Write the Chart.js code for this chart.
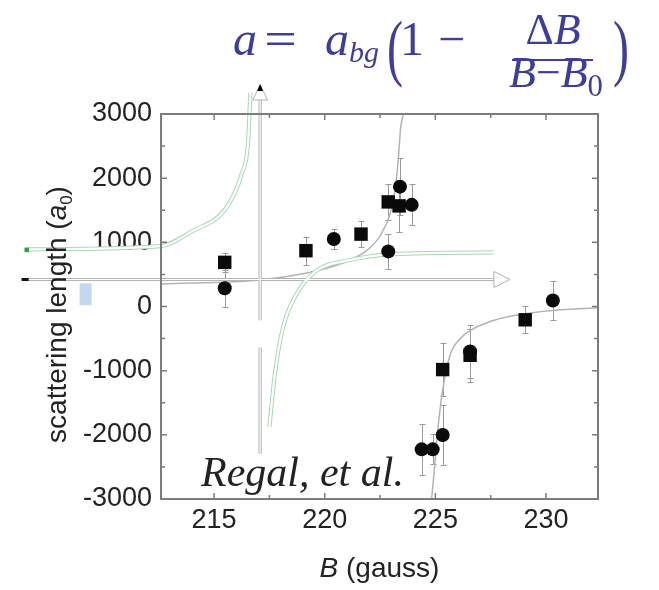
<!DOCTYPE html>
<html>
<head>
<meta charset="utf-8">
<script src="https://cdn.jsdelivr.net/npm/chart.js@4.4.1/dist/chart.umd.min.js"></script>
<style>
  html, body { margin: 0; padding: 0; background: #fff; }
  #wrap { position: relative; width: 659px; height: 590px; overflow: hidden; }
  #wrap canvas { position: absolute; left: 0; top: 0; }
  .tx { position: absolute; white-space: nowrap; line-height: 1; font-family: 'Liberation Serif', serif; }
  .eq { color: #3e3e9a; }
  .sub { font-size: 0.7em; position: relative; top: 0.3em; }
  .bar { position: absolute; background: #3e3e9a; }
</style>
</head>
<body>
<div id="wrap">
  <canvas id="c" width="659" height="590"></canvas>
</div>
<script>
// --- DONNÉES ---
const squareB   = [215.48, 219.15, 221.64, 222.87, 223.36, 225.33, 226.57, 229.06];
const squareA   = [688,    870,    1128,   1630,   1568,   -983,   -760,   -207];
const squareErr = [150,    220,    207,    275,    400,    414,    414,    212];

const circleB   = [215.48, 220.41, 222.87, 223.40, 223.93, 224.38, 224.88, 225.33, 226.57, 230.31];
const circleA   = [285,    1051,   859,    1868,   1584,   -2226,  -2226,  -2003,  -700,   93];
const circleErr = [285,    150,    277,    440,    320,    396,    233,    466,    414,    310];

// courbe d'ajustement, deux branches autour du pôle
const fitLowB  = [212.6, 217.07, 219.18, 220.69, 221.89, 222.5, 222.95, 223.17, 223.33, 223.43, 223.55];
const fitLowA  = [352,   414,    523,    663,    870,    1102,  1439,   1801,   2319,   2785,   3000];
const fitHighB = [224.83, 224.94, 225.14, 225.33, 225.66, 226.12, 226.64, 227.62, 229.06, 230.64, 232.35];
const fitHighA = [-3000,  -2598,  -1822,  -1304,  -761,   -502,   -362,   -217,   -114,   -52,    -21];

// axes
const xRange = [212.6, 232.35];
const yRange = [-3000, 3000];
const xMajor = [215, 220, 225, 230];
const xMinor = [217.5, 222.5, 227.5];
const yMajor = [3000, 2000, 1000, 0, -1000, -2000, -3000];
const yMinor = [2500, 1500, 500, -500, -1500, -2500];

// schéma dessiné par-dessus (hyperbole + axes), en unités de données
// (listé de droite à gauche pour que Chart.js ne coupe pas ce qui sort du cadre)
const schemeLeftB  = [216.64, 216.61, 216.54, 216.24, 215.56, 214.05, 212.55, 206.52];
const schemeLeftA  = [3328,   3095,   2578,   2059,   1542,   1180,   941,    890];
const schemeRightB = [217.50, 217.75, 218.12, 218.73, 219.63, 220.99, 223.10, 227.62];
const schemeRightA = [-1874,  -1047,  -321,   196,    559,    714,    817,    843];
const poleB      = 217.08;
const poleA      = [3219, -214, null, -635, -2297];
const poleTipA   = 3452;
const zeroA      = 421;
const zeroB      = [227.65, 206.30];
const zeroTipB   = 228.37;
const dashB      = [206.62, 206.30];
const greenDotB  = [206.63, 206.43];
const greenDotA  = 882;
const blueB      = 209.19;
const blueA      = [362, 20];

const pts = (bs, as) => bs.map((b, i) => ({ x: b, y: as[i] }));

// --- PLUGINS ---
const errorBars = {
    id: 'errorBars',
    beforeDatasetsDraw(chart) {
        const { ctx, scales: { x, y } } = chart;
        ctx.save();
        ctx.strokeStyle = '#9a9a9a';
        ctx.lineWidth = 1;
        const draw = (bs, as, es) => bs.forEach((b, i) => {
            const px = Math.round(x.getPixelForValue(b)) + 0.5;
            const y1 = Math.round(y.getPixelForValue(as[i] + es[i])) + 0.5;
            const y2 = Math.round(y.getPixelForValue(as[i] - es[i])) + 0.5;
            ctx.beginPath();
            ctx.moveTo(px, y1); ctx.lineTo(px, y2);
            ctx.moveTo(px - 3, y1); ctx.lineTo(px + 3, y1);
            ctx.moveTo(px - 3, y2); ctx.lineTo(px + 3, y2);
            ctx.stroke();
        });
        draw(squareB, squareA, squareErr);
        draw(circleB, circleA, circleErr);
        ctx.restore();
    }
};

const frame = {
    id: 'frame',
    afterDatasetsDraw(chart) {
        const { ctx, chartArea: a, scales: { x, y } } = chart;
        ctx.save();
        ctx.strokeStyle = '#7c7c7c';
        ctx.lineWidth = 2;
        ctx.strokeRect(a.left, a.top, a.right - a.left, a.bottom - a.top);
        ctx.lineWidth = 1.5;
        ctx.beginPath();
        const xt = (vals, len) => vals.forEach(v => {
            const p = x.getPixelForValue(v);
            ctx.moveTo(p, a.bottom); ctx.lineTo(p, a.bottom - len);
            ctx.moveTo(p, a.top);    ctx.lineTo(p, a.top + len);
        });
        const yt = (vals, len) => vals.forEach(v => {
            const p = y.getPixelForValue(v);
            ctx.moveTo(a.left, p);  ctx.lineTo(a.left + len, p);
            ctx.moveTo(a.right, p); ctx.lineTo(a.right - len, p);
        });
        xt(xMajor, 6); xt(xMinor, 4);
        yt(yMajor, 6); yt(yMinor, 4);
        ctx.stroke();
        ctx.restore();
    }
};

// pointes des flèches du schéma (hors du cadre, donc dessinées à la main)
const arrowHeads = {
    id: 'arrowHeads',
    afterDatasetsDraw(chart) {
        const { ctx, scales: { x, y } } = chart;
        ctx.save();
        ctx.lineWidth = 1;
        ctx.strokeStyle = '#b0b0b0';

        const vx = x.getPixelForValue(poleB), vy = y.getPixelForValue(poleTipA);
        ctx.fillStyle = '#fff';
        ctx.beginPath();
        ctx.moveTo(vx, vy); ctx.lineTo(vx - 7.5, vy + 15); ctx.lineTo(vx + 7.5, vy + 15);
        ctx.closePath(); ctx.fill(); ctx.stroke();
        ctx.fillStyle = '#000';
        ctx.beginPath();
        ctx.moveTo(vx, vy - 1); ctx.lineTo(vx - 3, vy + 6); ctx.lineTo(vx + 3, vy + 6);
        ctx.closePath(); ctx.fill();

        const hx = x.getPixelForValue(zeroTipB), hy = y.getPixelForValue(zeroA);
        ctx.fillStyle = '#fff';
        ctx.beginPath();
        ctx.moveTo(hx, hy); ctx.lineTo(hx - 16, hy - 8); ctx.lineTo(hx - 16, hy + 8);
        ctx.closePath(); ctx.fill(); ctx.stroke();
        ctx.restore();
    }
};

const axisTitles = {
    id: 'axisTitles',
    afterDraw(chart) {
        const { ctx, chartArea: a } = chart;
        const fs = 28;
        const it = `italic ${fs}px "Liberation Sans"`;
        const rm = `${fs}px "Liberation Sans"`;
        ctx.save();
        ctx.fillStyle = '#222';
        ctx.textBaseline = 'alphabetic';

        // B (gauss)
        ctx.font = it; const wB = ctx.measureText('B').width;
        ctx.font = rm; const wG = ctx.measureText(' (gauss)').width;
        const x0 = (a.left + a.right) / 2 - (wB + wG) / 2;
        ctx.font = it; ctx.fillText('B', x0, a.bottom + 78);
        ctx.font = rm; ctx.fillText(' (gauss)', x0 + wB, a.bottom + 78);

        // scattering length (a0)
        const p1 = 'scattering length (', p3 = ')';
        ctx.font = rm; const w1 = ctx.measureText(p1).width, w3 = ctx.measureText(p3).width;
        ctx.font = it; const w2 = ctx.measureText('a').width;
        ctx.font = `${fs * 0.6}px "Liberation Sans"`; const w0 = ctx.measureText('0').width;
        const total = w1 + w2 + w0 + w3;
        ctx.translate(a.left - 95, (a.top + a.bottom) / 2 + 8);
        ctx.rotate(-Math.PI / 2);
        let cx = -total / 2;
        ctx.font = rm; ctx.fillText(p1, cx, 0); cx += w1;
        ctx.font = it; ctx.fillText('a', cx, 0); cx += w2;
        ctx.font = `${fs * 0.6}px "Liberation Sans"`; ctx.fillText('0', cx, 6); cx += w0;
        ctx.font = rm; ctx.fillText(p3, cx, 0);
        ctx.restore();
    }
};

// --- DATASETS ---
const lineDs = (data, color, width, order, extra = {}) => Object.assign({
    data, showLine: true, pointRadius: 0, borderColor: color, borderWidth: width,
    fill: false, order, clip: false
}, extra);

const mono = { cubicInterpolationMode: 'monotone' };

const datasets = [
    { label: 'carrés', data: pts(squareB, squareA), pointStyle: 'rect', pointRadius: 9.5,
      backgroundColor: '#0a0a0a', borderWidth: 0, order: 0 },
    { label: 'ronds', data: pts(circleB, circleA), pointStyle: 'circle', pointRadius: 7,
      backgroundColor: '#0a0a0a', borderWidth: 0, order: 0 },

    // schéma: doubles traits (trait large + trait blanc)
    lineDs(pts(schemeLeftB, schemeLeftA), '#fff', 2.2, 3, mono),
    lineDs(pts(schemeLeftB, schemeLeftA), '#a9d8b2', 4.2, 4, mono),
    lineDs(pts(schemeRightB, schemeRightA), '#fff', 2.2, 3, mono),
    lineDs(pts(schemeRightB, schemeRightA), '#a9d8b2', 4.2, 4, mono),
    lineDs(poleA.map(v => ({ x: poleB, y: v })), '#fff', 1.2, 3),
    lineDs(poleA.map(v => ({ x: poleB, y: v })), '#b4b4b4', 3.2, 4),
    lineDs(zeroB.map(b => ({ x: b, y: zeroA })), '#fff', 1.2, 3),
    lineDs(zeroB.map(b => ({ x: b, y: zeroA })), '#b4b4b4', 3.2, 4),
    lineDs(dashB.map(b => ({ x: b, y: zeroA })), '#111', 3, 2, { borderCapStyle: 'butt' }),
    lineDs(greenDotB.map(b => ({ x: b, y: greenDotA })), '#2f9e44', 4.5, 2, { borderCapStyle: 'butt' }),
    lineDs(blueA.map(v => ({ x: blueB, y: v })), '#c4d7ef', 12, 5, { borderCapStyle: 'butt' }),

    // ajustement
    lineDs(pts(fitLowB, fitLowA), '#b3b3b3', 1.5, 6, Object.assign({ clip: undefined }, mono)),
    lineDs(pts(fitHighB, fitHighA), '#b3b3b3', 1.5, 6, Object.assign({ clip: undefined }, mono))
];

const tickFont = { family: 'Liberation Sans', size: 27 };

new Chart(document.getElementById('c'), {
    type: 'scatter',
    data: { datasets },
    options: {
        responsive: false,
        animation: false,
        events: [],
        layout: { padding: { left: 0, top: 114, right: 61, bottom: 0 } },
        plugins: { legend: { display: false }, tooltip: { enabled: false } },
        scales: {
            x: {
                type: 'linear', min: xRange[0], max: xRange[1],
                afterBuildTicks: s => { s.ticks = xMajor.map(v => ({ value: v })); },
                afterFit: s => { s.height = 91; },
                grid: { display: false, drawTicks: false },
                border: { display: false },
                ticks: { font: tickFont, color: '#222', padding: 5, maxRotation: 0, autoSkip: false,
                         callback: v => String(v) }
            },
            y: {
                type: 'linear', min: yRange[0], max: yRange[1],
                afterBuildTicks: s => { s.ticks = yMajor.map(v => ({ value: v })); },
                afterFit: s => { s.width = 161; },
                grid: { display: false, drawTicks: false },
                border: { display: false },
                ticks: { font: tickFont, color: '#222', padding: 9, autoSkip: false,
                         callback: v => String(v) }
            }
        }
    },
    plugins: [errorBars, frame, arrowHeads, axisTitles]
});

// --- TEXTES AU-DESSUS ---
const wrap = document.getElementById('wrap');
function label(html, left, base, size, opts = {}) {
    const el = document.createElement('span');
    el.className = 'tx ' + (opts.cls || '');
    el.innerHTML = html;
    el.style.fontSize = size + 'px';
    el.style.top = (base - 0.8375 * size) + 'px';
    el.style.left = left + 'px';
    const tr = [];
    if (opts.center) tr.push('translateX(-50%)');
    if (opts.scaleY) tr.push(`scaleY(${opts.scaleY})`);
    if (opts.scaleX) tr.push(`scaleX(${opts.scaleX})`);
    if (tr.length) el.style.transform = tr.join(' ');
    if (opts.italic) el.style.fontStyle = 'italic';
    if (opts.color) el.style.color = opts.color;
    wrap.appendChild(el);
}

label('<i>a</i>', 233, 55, 48, { cls: 'eq' });
label('=', 267, 55, 48, { cls: 'eq', scaleX: 1.2 });
label('<i>a</i>', 325, 55, 48, { cls: 'eq' });
label('<i>bg</i>', 349, 62, 30, { cls: 'eq' });
label('(', 387, 63, 48, { cls: 'eq', scaleY: 1.55 });
label('1', 400, 55, 48, { cls: 'eq' });
label('\u2212', 438, 55, 48, { cls: 'eq' });
label('\u0394<i>B</i>', 553, 45, 44, { cls: 'eq', center: true });
label('<i>B</i>\u2212<i>B</i><span class="sub">0</span>', 556, 88, 44, { cls: 'eq', center: true });
label(')', 613, 63, 48, { cls: 'eq', scaleY: 1.55 });
const bar = document.createElement('div');
bar.className = 'bar';
bar.style.cssText = 'left:512px; top:59px; width:81px; height:2px;';
wrap.appendChild(bar);

label('Regal, et al.', 201, 486, 42, { italic: true, color: '#222' });
</script>
</body>
</html>
